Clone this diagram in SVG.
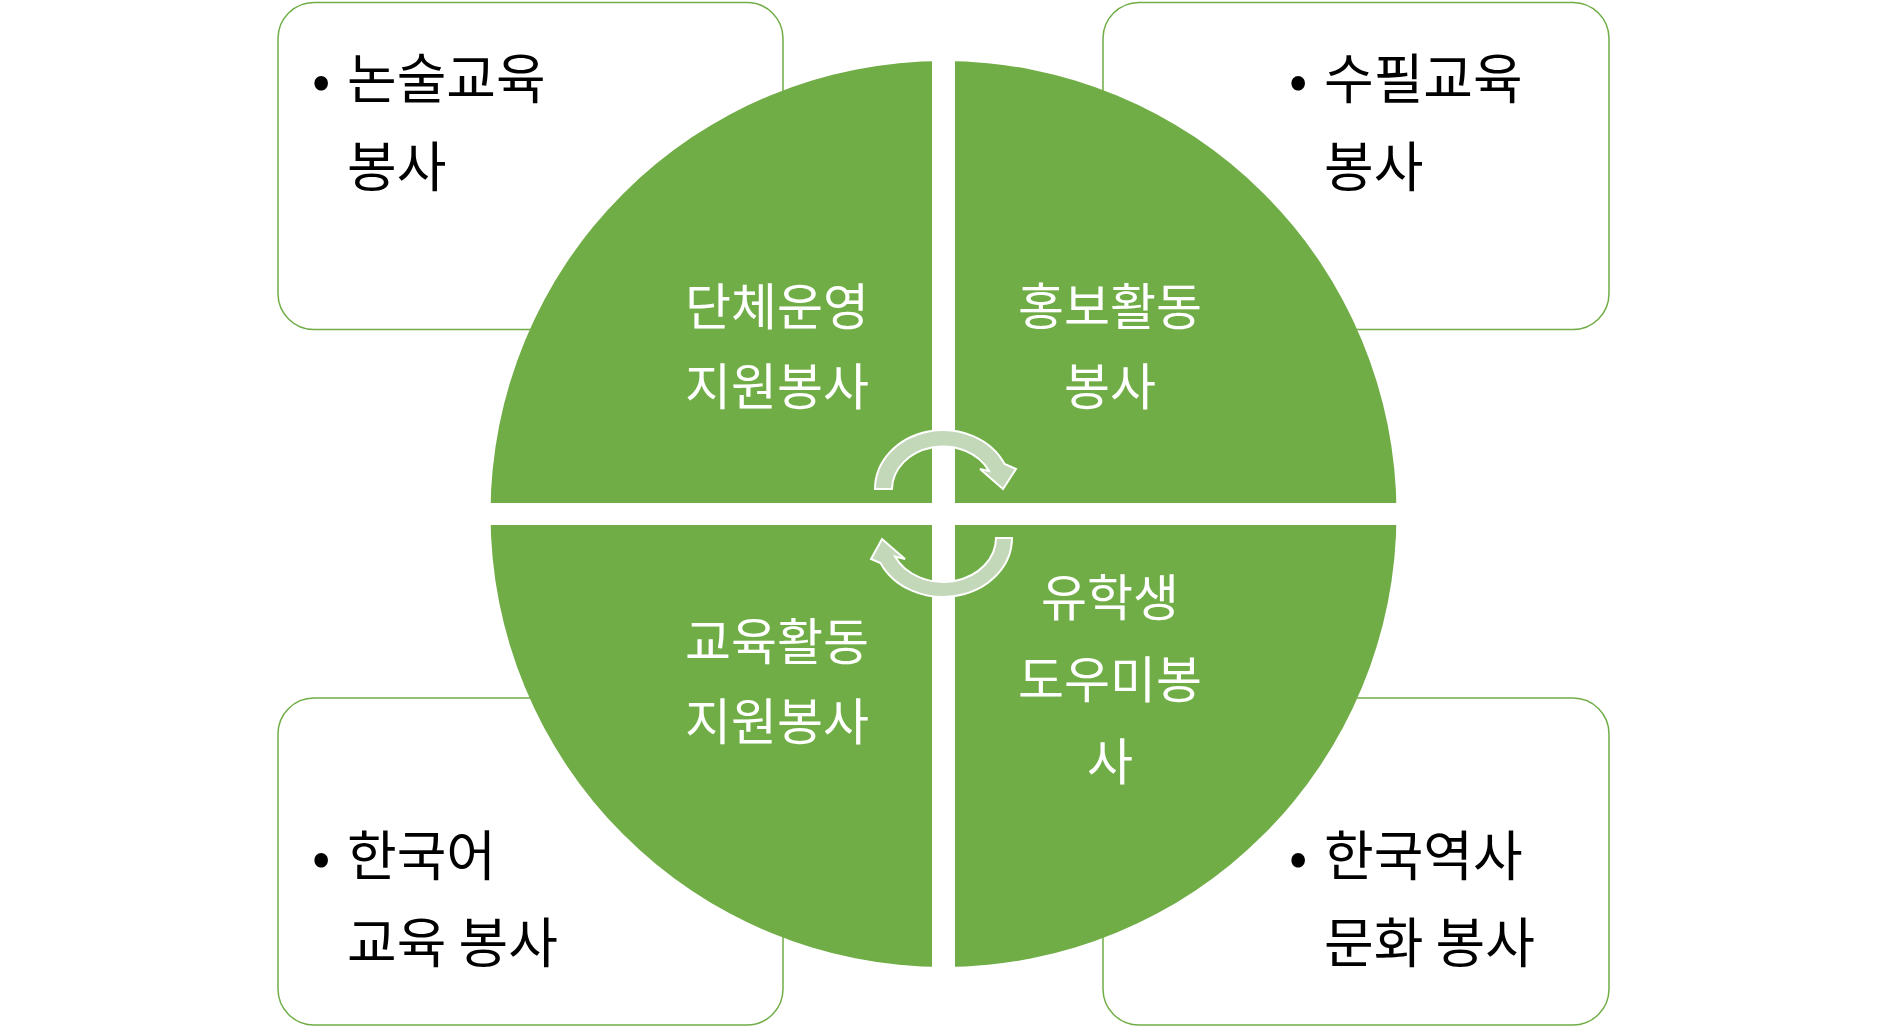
<svg xmlns="http://www.w3.org/2000/svg" width="1887" height="1036" viewBox="0 0 1887 1036">
<style>
.box{fill:#fff;stroke:#70AD47;stroke-width:1.5}
.q{fill:#70AD47}
.ot{font-family:"Noto Sans CJK KR",sans-serif;font-size:54px;fill:#000}
.it{font-family:"Noto Sans CJK KR",sans-serif;font-size:50px;fill:#fff;text-anchor:middle}
.arr{fill:#C3D7B9;stroke:#fff;stroke-width:2}
</style>
<defs><clipPath id="c"><circle cx="943.5" cy="514" r="453"/></clipPath></defs>
<rect width="1887" height="1036" fill="#fff"/>
<g id="box-tl"><rect class="box" x="278" y="2.5" width="505" height="327" rx="36"/>
<text class="ot" x="312" y="99">•</text><text class="ot" x="347" y="99">논술교육</text><text class="ot" x="347" y="187">봉사</text></g>
<g id="box-tr"><rect class="box" x="1103" y="2.5" width="506" height="327" rx="36"/>
<text class="ot" x="1289" y="99">•</text><text class="ot" x="1324" y="99">수필교육</text><text class="ot" x="1324" y="187">봉사</text></g>
<g id="box-bl"><rect class="box" x="278" y="698" width="505" height="327" rx="36"/>
<text class="ot" x="312" y="876">•</text><text class="ot" x="347" y="876">한국어</text><text class="ot" x="347" y="963">교육 봉사</text></g>
<g id="box-br"><rect class="box" x="1103" y="698" width="506" height="327" rx="36"/>
<text class="ot" x="1289" y="876">•</text><text class="ot" x="1324" y="876">한국역사</text><text class="ot" x="1324" y="963">문화 봉사</text></g>
<g id="q-tl"><rect class="q" x="480" y="50" width="452" height="453" clip-path="url(#c)"/>
<text class="it" x="777" y="325">단체운영</text><text class="it" x="777" y="405">지원봉사</text></g>
<g id="q-tr"><rect class="q" x="955" y="50" width="452" height="453" clip-path="url(#c)"/>
<text class="it" x="1110" y="325">홍보활동</text><text class="it" x="1110" y="405">봉사</text></g>
<g id="q-bl"><rect class="q" x="480" y="525" width="452" height="453" clip-path="url(#c)"/>
<text class="it" x="777" y="660">교육활동</text><text class="it" x="777" y="740">지원봉사</text></g>
<g id="q-br"><rect class="q" x="955" y="525" width="452" height="453" clip-path="url(#c)"/>
<text class="it" x="1110" y="616">유학생</text><text class="it" x="1110" y="698">도우미봉</text><text class="it" x="1110" y="780">사</text></g>
<g id="connectors">
<path class="arr" d="M875,489 A68,59 0 0 1 1004.6,464 L1016,469 L1003,489 L980,469 L989,471 A51,43 0 0 0 892,489 Z"/>
<path class="arr" d="M1012,538 A69,59 0 0 1 880.5,563 L871,559 L882,539 L905,559 L895,556.6 A53,44 0 0 0 996,538 Z"/>
</g>
</svg>
